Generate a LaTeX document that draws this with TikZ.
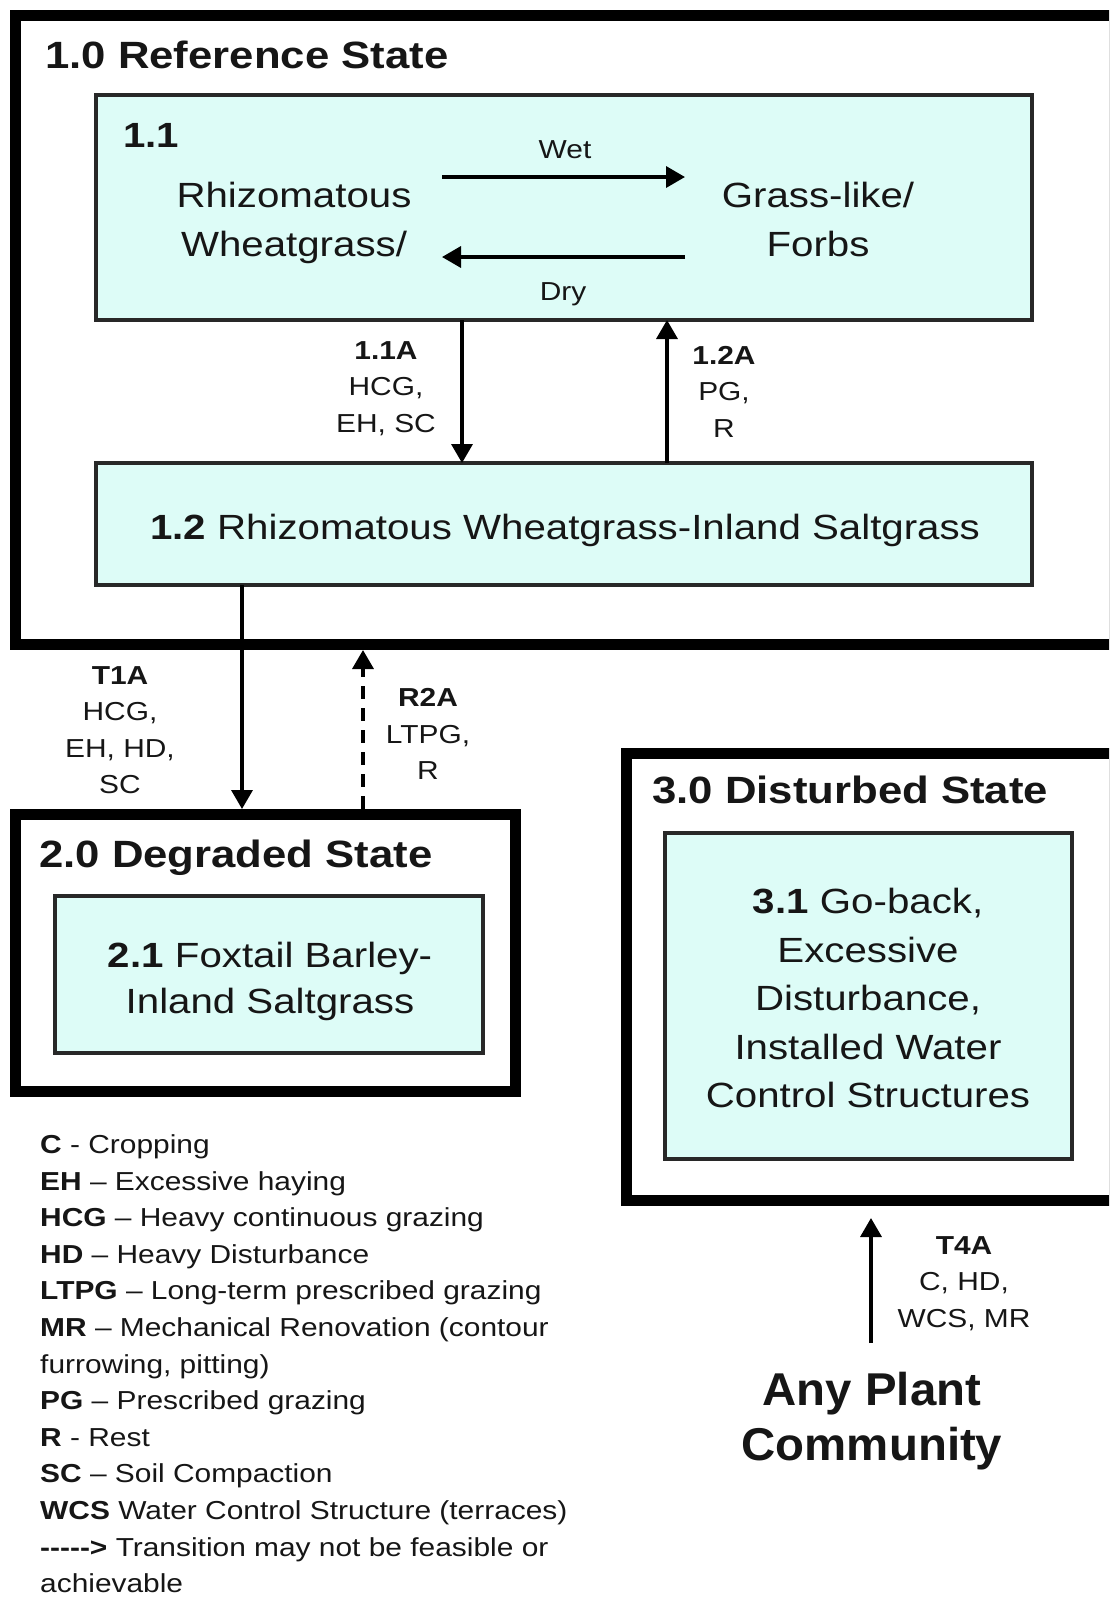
\documentclass[tikz,border=0pt]{standalone}
\usepackage{fontspec}
\setmainfont{Liberation Sans}[FakeStretch=1.15]
\newfontfamily\apcfont{Liberation Sans}[FakeStretch=1.03]
\usetikzlibrary{arrows.meta}
\definecolor{boxfill}{RGB}{221,252,247}
\definecolor{boxline}{RGB}{40,40,40}
\definecolor{ink}{RGB}{22,22,22}
\newcommand\hy{\mbox{-}}
\begin{document}
\begin{tikzpicture}[x=1pt,y=-1pt,
  outerbox/.style={draw=black, line width=11pt, anchor=north west, inner sep=0pt, outer sep=0pt},
  commbox/.style={draw=boxline, line width=3.5pt, fill=boxfill, anchor=north west, inner sep=0pt, outer sep=0pt},
  titletext/.style={font=\fontsize{38}{46}\selectfont\bfseries, text=ink, anchor=base west, inner sep=0pt},
  bodytext/.style={font=\fontsize{35}{48.5}\selectfont, text=ink, align=center, inner sep=0pt},
  lbl/.style={font=\fontsize{26}{36.5}\selectfont, text=ink, align=center, inner sep=0pt, anchor=north},
  arr/.style={draw=black, line width=3.5pt, -{Triangle[length=19pt,width=21pt]}}
]
\useasboundingbox (0,0) rectangle (1109,1599);
\fill[white] (0,0) rectangle (1109,1599);
\clip (0,0) rectangle (1109,1599);

% ---- 1.0 Reference State
\node[outerbox, minimum width=1099pt, minimum height=629pt] (s10) at (15,15) {};
\node[titletext] (t10) at (45,68) {1.0 Reference State};

\node[commbox, minimum width=936pt, minimum height=225pt] (b11) at (96,95) {};
\node[font=\fontsize{35}{40}\selectfont\bfseries, text=ink, anchor=base west, inner sep=0pt] (n11) at (123,147) {1.1};
\node[bodytext, anchor=north] (rw) at (294,182) {Rhizomatous\\Wheatgrass/};
\node[bodytext, anchor=north] (gf) at (818,182) {Grass-like/\\Forbs};
\coordinate (wetA) at (442,177);
\coordinate (wetB) at (685,177);
\coordinate (dryA) at (685,257);
\coordinate (dryB) at (442,257);
\draw[arr] (wetA) -- (wetB);
\draw[arr] (dryA) -- (dryB);
\node[lbl, anchor=base] (wet) at (565,158) {Wet};
\node[lbl, anchor=base] (dry) at (563,300) {Dry};

\node[commbox, minimum width=936pt, minimum height=122pt] (b12) at (96,463) {};
\node[bodytext, anchor=base] (t12) at (565,539) {\textbf{1.2} Rhizomatous Wheatgrass-Inland Saltgrass};

\coordinate (x11a) at (462,0);
\coordinate (x12a) at (667,0);
\draw[arr] (b11.south -| x11a) -- (b12.north -| x11a);
\draw[arr] (b12.north -| x12a) -- (b11.south -| x12a);
\node[lbl] (l11a) at (386,341.4) {\textbf{1.1A}\\HCG,\\EH, SC};
\node[lbl] (l12a) at (724,346) {\textbf{1.2A}\\PG,\\R};

% ---- 2.0 Degraded State
\node[outerbox, minimum width=500pt, minimum height=277pt] (s20) at (15,814) {};
\node[titletext] (t20) at (39,867) {2.0 Degraded State};
\node[commbox, minimum width=428pt, minimum height=157pt] (b21) at (55,896) {};
\node[bodytext, font=\fontsize{35}{46}\selectfont, anchor=north] (t21) at (270,942) {\textbf{2.1} Foxtail Barley-\\Inland Saltgrass};

\coordinate (xt1a) at (242,0);
\coordinate (xr2a) at (363,0);
\draw[arr, shorten >=5pt] (b12.south -| xt1a) -- (s20.north -| xt1a);
\draw[arr, dash pattern=on 13pt off 9pt, shorten <=5.5pt, shorten >=6pt] (s20.north -| xr2a) -- (s10.south -| xr2a);
\node[lbl] (lt1a) at (120,666) {\textbf{T1A}\\HCG,\\EH, HD,\\SC};
\node[lbl] (lr2a) at (428,688.5) {\textbf{R2A}\\LTPG,\\R};

% ---- 3.0 Disturbed State
\node[outerbox, minimum width=488pt, minimum height=447pt] (s30) at (626,753) {};
\node[titletext] (t30) at (652,803) {3.0 Disturbed State};
\node[commbox, minimum width=407pt, minimum height=326pt] (b31) at (665,833) {};
\node[bodytext, anchor=north] (t31) at (868,888) {\textbf{3.1} Go-back,\\Excessive\\Disturbance,\\Installed Water\\Control Structures};

% ---- Any plant community
\node[font=\apcfont\fontsize{46}{55}\selectfont\bfseries, text=ink, align=center, anchor=north, inner sep=0pt] (apc) at (872,1372) {Any Plant\\Community};
\coordinate (xt4a) at (871,0);
\draw[arr, shorten <=29pt, shorten >=18pt] (apc.north -| xt4a) -- (s30.south -| xt4a);
\node[lbl] (lt4a) at (964,1236) {\textbf{T4A}\\C, HD,\\WCS, MR};

% ---- Legend
\node[font=\fontsize{26}{36.6}\selectfont, text=ink, align=left, anchor=north west, inner sep=0pt] (legend) at (40,1134.4) {%
\textbf{C} - Cropping\\
\textbf{EH} -- Excessive haying\\
\textbf{HCG} -- Heavy continuous grazing\\
\textbf{HD} -- Heavy Disturbance\\
\textbf{LTPG} -- Long-term prescribed grazing\\
\textbf{MR} -- Mechanical Renovation (contour\\
furrowing, pitting)\\
\textbf{PG} -- Prescribed grazing\\
\textbf{R} - Rest\\
\textbf{SC} -- Soil Compaction\\
\textbf{WCS} Water Control Structure (terraces)\\
\textbf{\hy\hy\hy\hy\hy>} Transition may not be feasible or\\
achievable};
\end{tikzpicture}
\end{document}
